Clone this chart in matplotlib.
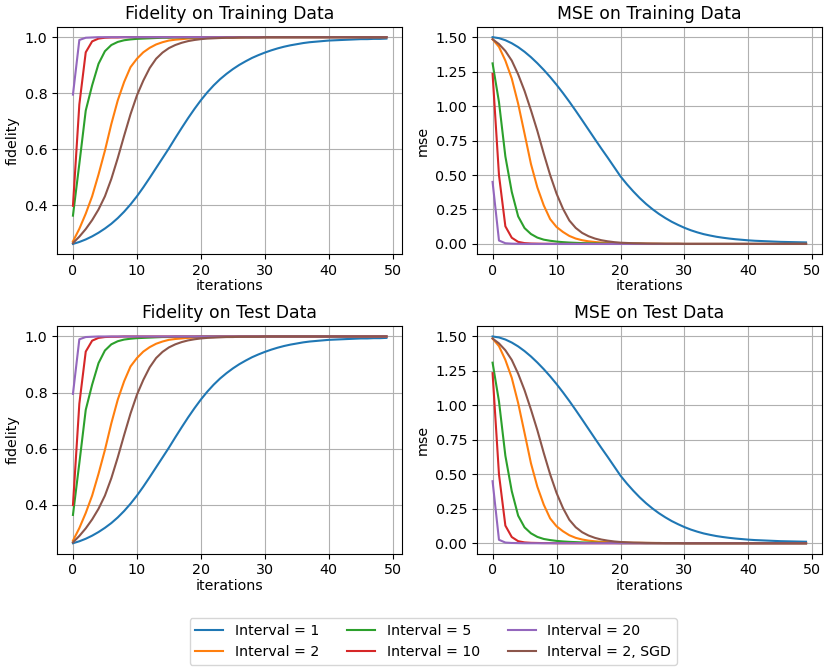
import matplotlib
matplotlib.use("Agg")
import matplotlib.pyplot as plt
from matplotlib.ticker import MultipleLocator

# iterations 0..49
iterations = list(range(50))

labels = ["Interval = 1", "Interval = 2", "Interval = 5",
          "Interval = 10", "Interval = 20", "Interval = 2, SGD"]

# fidelity on training data
fid_1 = [0.262, 0.269, 0.278, 0.289, 0.302, 0.317, 0.334, 0.354, 0.377, 0.403,
         0.432, 0.464, 0.498, 0.533, 0.568, 0.603, 0.640, 0.676, 0.711, 0.744,
         0.775, 0.803, 0.828, 0.850, 0.869, 0.886, 0.901, 0.914, 0.926, 0.936,
         0.945, 0.953, 0.960, 0.966, 0.971, 0.975, 0.979, 0.982, 0.984, 0.986,
         0.988, 0.989, 0.990, 0.991, 0.992, 0.993, 0.993, 0.994, 0.994, 0.995]
fid_2 = [0.271, 0.316, 0.370, 0.432, 0.510, 0.595, 0.690, 0.774, 0.840, 0.893,
         0.923, 0.946, 0.962, 0.974, 0.982, 0.988, 0.991, 0.993, 0.995, 0.996,
         0.997, 0.998, 0.998, 0.999, 0.999, 0.999, 0.999, 1.000, 1.000, 1.000,
         1.000, 1.000, 1.000, 1.000, 1.000, 1.000, 1.000, 1.000, 1.000, 1.000,
         1.000, 1.000, 1.000, 1.000, 1.000, 1.000, 1.000, 1.000, 1.000, 1.000]
fid_5 = [0.363, 0.548, 0.738, 0.828, 0.905, 0.950, 0.972, 0.983, 0.989, 0.992,
         0.994, 0.995, 0.996, 0.997, 0.998, 0.998, 0.999, 0.999, 0.999, 0.999,
         1.000, 1.000, 1.000, 1.000, 1.000, 1.000, 1.000, 1.000, 1.000, 1.000,
         1.000, 1.000, 1.000, 1.000, 1.000, 1.000, 1.000, 1.000, 1.000, 1.000,
         1.000, 1.000, 1.000, 1.000, 1.000, 1.000, 1.000, 1.000, 1.000, 1.000]
fid_10 = [0.398, 0.760, 0.946, 0.985, 0.995, 0.998, 0.999, 0.999, 1.000, 1.000,
          1.000, 1.000, 1.000, 1.000, 1.000, 1.000, 1.000, 1.000, 1.000, 1.000,
          1.000, 1.000, 1.000, 1.000, 1.000, 1.000, 1.000, 1.000, 1.000, 1.000,
          1.000, 1.000, 1.000, 1.000, 1.000, 1.000, 1.000, 1.000, 1.000, 1.000,
          1.000, 1.000, 1.000, 1.000, 1.000, 1.000, 1.000, 1.000, 1.000, 1.000]
fid_20 = [0.795, 0.990, 0.998, 0.999, 1.000, 1.000, 1.000, 1.000, 1.000, 1.000,
          1.000, 1.000, 1.000, 1.000, 1.000, 1.000, 1.000, 1.000, 1.000, 1.000,
          1.000, 1.000, 1.000, 1.000, 1.000, 1.000, 1.000, 1.000, 1.000, 1.000,
          1.000, 1.000, 1.000, 1.000, 1.000, 1.000, 1.000, 1.000, 1.000, 1.000,
          1.000, 1.000, 1.000, 1.000, 1.000, 1.000, 1.000, 1.000, 1.000, 1.000]
fid_sgd = [0.265, 0.288, 0.315, 0.347, 0.385, 0.432, 0.494, 0.568, 0.648, 0.725,
           0.792, 0.845, 0.890, 0.923, 0.945, 0.961, 0.972, 0.980, 0.986, 0.990,
           0.993, 0.995, 0.996, 0.997, 0.998, 0.998, 0.999, 0.999, 0.999, 0.999,
           1.000, 1.000, 1.000, 1.000, 1.000, 1.000, 1.000, 1.000, 1.000, 1.000,
           1.000, 1.000, 1.000, 1.000, 1.000, 1.000, 1.000, 1.000, 1.000, 1.000]

# mse on training data
mse_1 = [1.500, 1.493, 1.478, 1.456, 1.428, 1.394, 1.355, 1.311, 1.263, 1.211,
         1.155, 1.095, 1.032, 0.966, 0.898, 0.829, 0.760, 0.692, 0.626, 0.558,
         0.490, 0.433, 0.381, 0.333, 0.290, 0.252, 0.218, 0.188, 0.161, 0.138,
         0.117, 0.099, 0.084, 0.071, 0.061, 0.052, 0.045, 0.039, 0.034, 0.030,
         0.026, 0.023, 0.021, 0.019, 0.017, 0.015, 0.014, 0.013, 0.012, 0.011]
mse_2 = [1.485, 1.430, 1.330, 1.200, 1.017, 0.800, 0.580, 0.410, 0.280, 0.180,
         0.123, 0.087, 0.058, 0.039, 0.027, 0.019, 0.014, 0.010, 0.008, 0.006,
         0.005, 0.004, 0.003, 0.003, 0.002, 0.002, 0.001, 0.001, 0.001, 0.001,
         0.000, 0.000, 0.000, 0.000, 0.000, 0.000, 0.000, 0.000, 0.000, 0.000,
         0.000, 0.000, 0.000, 0.000, 0.000, 0.000, 0.000, 0.000, 0.000, 0.000]
mse_5 = [1.310, 1.030, 0.635, 0.378, 0.200, 0.115, 0.072, 0.046, 0.031, 0.023,
         0.017, 0.013, 0.010, 0.008, 0.006, 0.005, 0.004, 0.003, 0.002, 0.002,
         0.001, 0.001, 0.001, 0.001, 0.000, 0.000, 0.000, 0.000, 0.000, 0.000,
         0.000, 0.000, 0.000, 0.000, 0.000, 0.000, 0.000, 0.000, 0.000, 0.000,
         0.000, 0.000, 0.000, 0.000, 0.000, 0.000, 0.000, 0.000, 0.000, 0.000]
mse_10 = [1.234, 0.500, 0.128, 0.045, 0.015, 0.006, 0.003, 0.002, 0.001, 0.001,
          0.000, 0.000, 0.000, 0.000, 0.000, 0.000, 0.000, 0.000, 0.000, 0.000,
          0.000, 0.000, 0.000, 0.000, 0.000, 0.000, 0.000, 0.000, 0.000, 0.000,
          0.000, 0.000, 0.000, 0.000, 0.000, 0.000, 0.000, 0.000, 0.000, 0.000,
          0.000, 0.000, 0.000, 0.000, 0.000, 0.000, 0.000, 0.000, 0.000, 0.000]
mse_20 = [0.450, 0.025, 0.005, 0.002, 0.001, 0.000, 0.000, 0.000, 0.000, 0.000,
          0.000, 0.000, 0.000, 0.000, 0.000, 0.000, 0.000, 0.000, 0.000, 0.000,
          0.000, 0.000, 0.000, 0.000, 0.000, 0.000, 0.000, 0.000, 0.000, 0.000,
          0.000, 0.000, 0.000, 0.000, 0.000, 0.000, 0.000, 0.000, 0.000, 0.000,
          0.000, 0.000, 0.000, 0.000, 0.000, 0.000, 0.000, 0.000, 0.000, 0.000]
mse_sgd = [1.485, 1.450, 1.400, 1.330, 1.230, 1.110, 0.970, 0.820, 0.655, 0.500,
           0.365, 0.256, 0.170, 0.116, 0.080, 0.056, 0.039, 0.027, 0.019, 0.013,
           0.009, 0.007, 0.005, 0.004, 0.003, 0.002, 0.002, 0.001, 0.001, 0.001,
           0.000, 0.000, 0.000, 0.000, 0.000, 0.000, 0.000, 0.000, 0.000, 0.000,
           0.000, 0.000, 0.000, 0.000, 0.000, 0.000, 0.000, 0.000, 0.000, 0.000]

# test curves sit on top of the training ones in the picture
test_fid_1, test_fid_2, test_fid_5 = fid_1, fid_2, fid_5
test_fid_10, test_fid_20, test_fid_sgd = fid_10, fid_20, fid_sgd
test_mse_1, test_mse_2, test_mse_5 = mse_1, mse_2, mse_5
test_mse_10, test_mse_20, test_mse_sgd = mse_10, mse_20, mse_sgd

train_fid = [fid_1, fid_2, fid_5, fid_10, fid_20, fid_sgd]
train_mse = [mse_1, mse_2, mse_5, mse_10, mse_20, mse_sgd]
test_fid = [test_fid_1, test_fid_2, test_fid_5, test_fid_10, test_fid_20, test_fid_sgd]
test_mse = [test_mse_1, test_mse_2, test_mse_5, test_mse_10, test_mse_20, test_mse_sgd]

fig, axes = plt.subplots(2, 2, figsize=(8.3, 6.71), dpi=100)
fig.subplots_adjust(left=0.069, right=0.990, top=0.960, bottom=0.175,
                    wspace=0.217, hspace=0.316)

panels = [
    (axes[0, 0], train_fid, "Fidelity on Training Data", "fidelity"),
    (axes[0, 1], train_mse, "MSE on Training Data", "mse"),
    (axes[1, 0], test_fid, "Fidelity on Test Data", "fidelity"),
    (axes[1, 1], test_mse, "MSE on Test Data", "mse"),
]

for ax, series, title, ylabel in panels:
    for values, label in zip(series, labels):
        ax.plot(iterations, values, label=label, linewidth=1.5)
    ax.set_title(title, fontsize=12.4)
    ax.set_xlabel("iterations", fontsize=10.3, labelpad=1)
    ax.set_ylabel(ylabel, fontsize=10.3)
    ax.tick_params(labelsize=10.3)
    ax.grid(True)
    if ylabel == "mse":
        ax.yaxis.set_major_locator(MultipleLocator(0.25))
        ax.yaxis.set_major_formatter("{x:.2f}")

handles, leg_labels = axes[0, 0].get_legend_handles_labels()
fig.legend(handles, leg_labels, loc="center", bbox_to_anchor=(0.522, 0.044),
           ncol=3, fontsize=10.15)

fig.savefig("out.png", dpi=100)
